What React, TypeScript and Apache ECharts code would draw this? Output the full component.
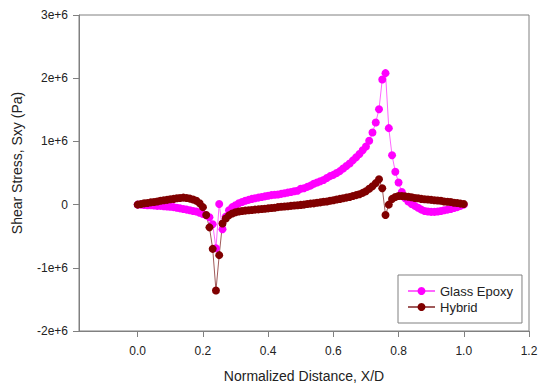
import React, { useEffect, useRef } from "react";
import * as echarts from "echarts";

// Normalized distance X/D
const xPos = [
  0.00, 0.01, 0.02, 0.03, 0.04, 0.05, 0.06, 0.07, 0.08, 0.09,
  0.10, 0.11, 0.12, 0.13, 0.14, 0.15, 0.16, 0.17, 0.18, 0.19,
  0.20, 0.21, 0.22, 0.23, 0.24, 0.25, 0.26, 0.27, 0.28, 0.29,
  0.30, 0.31, 0.32, 0.33, 0.34, 0.35, 0.36, 0.37, 0.38, 0.39,
  0.40, 0.41, 0.42, 0.43, 0.44, 0.45, 0.46, 0.47, 0.48, 0.49,
  0.50, 0.51, 0.52, 0.53, 0.54, 0.55, 0.56, 0.57, 0.58, 0.59,
  0.60, 0.61, 0.62, 0.63, 0.64, 0.65, 0.66, 0.67, 0.68, 0.69,
  0.70, 0.71, 0.72, 0.73, 0.74, 0.75, 0.76, 0.77, 0.78, 0.79,
  0.80, 0.81, 0.82, 0.83, 0.84, 0.85, 0.86, 0.87, 0.88, 0.89,
  0.90, 0.91, 0.92, 0.93, 0.94, 0.95, 0.96, 0.97, 0.98, 0.99,
  1.00,
];

// Shear stress Sxy, in units of 1e6 Pa
const glassEpoxy = [
  0.00, 0.00, -0.005, -0.01, -0.01, -0.015, -0.02, -0.02, -0.025, -0.03,
  -0.035, -0.04, -0.05, -0.06, -0.07, -0.08, -0.09, -0.10, -0.11, -0.13,
  -0.15, -0.17, -0.20, -0.31, -0.69, 0.01, -0.39, -0.19, -0.09, -0.04,
  -0.01, 0.02, 0.04, 0.06, 0.075, 0.09, 0.10, 0.11, 0.12, 0.13,
  0.14, 0.15, 0.155, 0.16, 0.17, 0.18, 0.19, 0.20, 0.21, 0.22,
  0.25, 0.26, 0.28, 0.30, 0.33, 0.35, 0.37, 0.39, 0.42, 0.45,
  0.47, 0.50, 0.53, 0.57, 0.61, 0.65, 0.70, 0.75, 0.80, 0.86,
  0.92, 1.01, 1.14, 1.30, 1.51, 1.98, 2.08, 1.21, 0.78, 0.52,
  0.35, 0.20, 0.10, 0.05, 0.01, -0.02, -0.05, -0.08, -0.10, -0.11,
  -0.115, -0.115, -0.11, -0.10, -0.09, -0.08, -0.07, -0.055, -0.04, -0.02,
  0.00,
];

const hybrid = [
  0.00, 0.01, 0.02, 0.025, 0.035, 0.04, 0.05, 0.06, 0.07, 0.075,
  0.085, 0.09, 0.10, 0.105, 0.11, 0.105, 0.095, 0.08, 0.06, 0.02,
  -0.04, -0.165, -0.36, -0.70, -1.36, -0.80, -0.30, -0.22, -0.17, -0.14,
  -0.12, -0.11, -0.10, -0.095, -0.09, -0.085, -0.08, -0.075, -0.07, -0.065,
  -0.06, -0.055, -0.05, -0.04, -0.035, -0.03, -0.025, -0.02, -0.015, -0.01,
  -0.005, 0.00, 0.01, 0.015, 0.02, 0.03, 0.035, 0.045, 0.05, 0.06,
  0.07, 0.08, 0.09, 0.10, 0.11, 0.12, 0.135, 0.15, 0.165, 0.185,
  0.21, 0.25, 0.29, 0.34, 0.40, 0.26, -0.165, 0.00, 0.09, 0.12,
  0.135, 0.135, 0.13, 0.125, 0.115, 0.105, 0.10, 0.09, 0.085, 0.08,
  0.075, 0.07, 0.065, 0.06, 0.05, 0.045, 0.04, 0.03, 0.025, 0.015,
  0.01,
];

const xTicks = [0.0, 0.2, 0.4, 0.6, 0.8, 1.0, 1.2];
const yTicks = [-2, -1, 0, 1, 2, 3];

const FONT = "Liberation Sans, Arial, sans-serif";

export default function App() {
  const ref = useRef<HTMLDivElement>(null);
  useEffect(() => {
    if (!ref.current) return;
    const chart = echarts.init(ref.current, null, { renderer: "svg" });
    const axisColor = "#808080";
    chart.setOption({
      animation: false,
      backgroundColor: "#ffffff",
      textStyle: { fontFamily: FONT },
      grid: {
        left: 79,
        right: 9,
        top: 15,
        bottom: 54,
        show: true,
        borderColor: axisColor,
        borderWidth: 1,
        containLabel: false,
        outerBoundsMode: "none",
      },
      xAxis: {
        type: "value",
        min: -0.18,
        max: 1.2,
        splitLine: { show: false },
        axisLine: { show: true, onZero: false, lineStyle: { color: axisColor } },
        axisTick: {
          show: true,
          inside: false,
          length: 6,
          customValues: xTicks,
          lineStyle: { color: axisColor },
        },
        axisLabel: {
          customValues: xTicks,
          formatter: (v: number) => v.toFixed(1),
          color: "#222",
          fontSize: 12,
          margin: 14,
          fontFamily: FONT,
        },
        name: "Normalized Distance, X/D",
        nameLocation: "middle",
        nameGap: 38,
        nameTextStyle: { color: "#222", fontSize: 14, fontFamily: FONT },
      },
      yAxis: {
        type: "value",
        min: -2,
        max: 3,
        interval: 1,
        splitLine: { show: false },
        axisLine: { show: true, onZero: false, lineStyle: { color: axisColor } },
        axisTick: {
          show: true,
          inside: false,
          length: 6,
          customValues: yTicks,
          lineStyle: { color: axisColor },
        },
        axisLabel: {
          customValues: yTicks,
          formatter: (v: number) => (v === 0 ? "0" : `${v}e+6`),
          color: "#222",
          fontSize: 12,
          margin: 11,
          fontFamily: FONT,
        },
        name: "Shear Stress, Sxy (Pa)",
        nameLocation: "middle",
        nameGap: 55,
        nameTextStyle: {
          color: "#222",
          fontSize: 14,
          fontFamily: FONT,
          padding: [0, 0, 0, 20],
        },
      },
      legend: {
        orient: "vertical",
        left: 398,
        top: 275,
        padding: [9, 9, 9, 9],
        itemGap: 2,
        itemWidth: 27,
        itemHeight: 10,
        borderColor: axisColor,
        borderWidth: 1,
        textStyle: {
          fontSize: 13,
          color: "#222",
          fontFamily: FONT,
          lineHeight: 14,
        },
        data: ["Glass Epoxy", "Hybrid"],
      },
      series: [
        {
          name: "Glass Epoxy",
          type: "line",
          data: xPos.map((x, i) => [x, glassEpoxy[i]]),
          symbol: "circle",
          symbolSize: 8,
          showSymbol: true,
          itemStyle: { color: "#ff00ff" },
          lineStyle: { color: "#ff66ff", width: 1 },
        },
        {
          name: "Hybrid",
          type: "line",
          data: xPos.map((x, i) => [x, hybrid[i]]),
          symbol: "circle",
          symbolSize: 8,
          showSymbol: true,
          itemStyle: { color: "#800000" },
          lineStyle: { color: "#a05a5a", width: 1 },
        },
      ],
    });
    return () => chart.dispose();
  }, []);
  return <div ref={ref} style={{ width: 538, height: 385, position: "absolute", left: 0, top: 0 }} />;
}
